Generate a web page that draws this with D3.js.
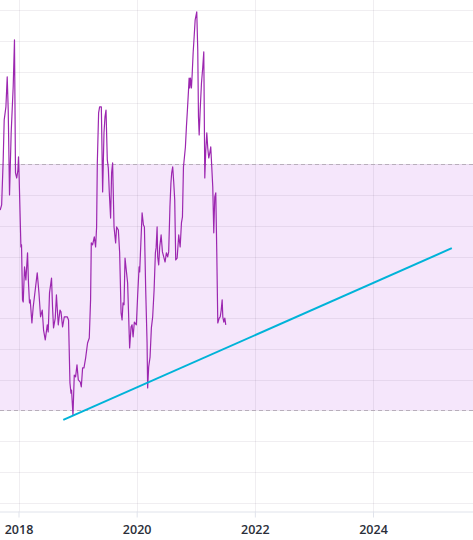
<!DOCTYPE html>
<html>
<head>
<meta charset="utf-8">
<script src="https://cdnjs.cloudflare.com/ajax/libs/d3/7.8.5/d3.min.js"></script>
<style>
  html, body { margin: 0; padding: 0; background: #fff; }
  svg { display: block; }
  .x-axis text { font-family: "Open Sans", "Noto Sans", sans-serif; font-size: 12.5px; font-weight: 600; fill: #2a2e39; }
</style>
</head>
<body>
<div id="chart"></div>
<script>
// weekly closes, time as decimal year
const times = [
  2017.690, 2017.715, 2017.741, 2017.758, 2017.787, 2017.809, 2017.826, 2017.848, 2017.876, 2017.910,
  2017.932, 2017.949, 2017.970, 2017.990, 2018.000, 2018.012, 2018.041, 2018.051, 2018.068, 2018.080,
  2018.102, 2018.125, 2018.153, 2018.169, 2018.186, 2018.198, 2018.227, 2018.249, 2018.283, 2018.317,
  2018.346, 2018.373, 2018.402, 2018.424, 2018.453, 2018.487, 2018.503, 2018.525, 2018.559, 2018.576,
  2018.593, 2018.622, 2018.642, 2018.673, 2018.702, 2018.719, 2018.746, 2018.775, 2018.825, 2018.847,
  2018.871, 2018.888, 2018.898, 2018.922, 2018.944, 2018.966, 2018.990, 2019.012, 2019.046, 2019.063,
  2019.085, 2019.108, 2019.136, 2019.169, 2019.198, 2019.220, 2019.232, 2019.254, 2019.283, 2019.305,
  2019.322, 2019.334, 2019.356, 2019.373, 2019.402, 2019.424, 2019.447, 2019.464, 2019.481, 2019.503,
  2019.520, 2019.537, 2019.559, 2019.576, 2019.593, 2019.617, 2019.644, 2019.661, 2019.690, 2019.712,
  2019.736, 2019.753, 2019.769, 2019.786, 2019.803, 2019.820, 2019.847, 2019.881, 2019.905, 2019.922,
  2019.939, 2019.961, 2019.995, 2020.017, 2020.041, 2020.051, 2020.092, 2020.114, 2020.131, 2020.153,
  2020.176, 2020.186, 2020.203, 2020.227, 2020.249, 2020.271, 2020.295, 2020.317, 2020.329, 2020.346,
  2020.356, 2020.373, 2020.390, 2020.414, 2020.436, 2020.458, 2020.481, 2020.503, 2020.525, 2020.542,
  2020.563, 2020.580, 2020.593, 2020.610, 2020.627, 2020.644, 2020.661, 2020.685, 2020.712, 2020.736,
  2020.758, 2020.775, 2020.792, 2020.809, 2020.825, 2020.842, 2020.859, 2020.876, 2020.888, 2020.898,
  2020.910, 2020.927, 2020.939, 2020.956, 2020.973, 2020.990, 2021.017, 2021.034, 2021.046, 2021.058,
  2021.075, 2021.097, 2021.119, 2021.136, 2021.153, 2021.170, 2021.187, 2021.203, 2021.220, 2021.237,
  2021.254, 2021.271, 2021.288, 2021.305, 2021.322, 2021.339, 2021.356, 2021.373, 2021.397, 2021.414,
  2021.431, 2021.447, 2021.458, 2021.475, 2021.492, 2021.508
];
const prices = [
  105.1, 106.8, 121.4, 134.4, 138.6, 148.4, 137.6, 110.0, 130.2, 145.1,
  160.4, 117.2, 115.5, 118.1, 122.4, 114.9, 93.1, 93.8, 75.9, 75.2,
  86.6, 82.4, 91.2, 81.4, 74.9, 75.9, 68.4, 73.6, 79.1, 84.7,
  78.2, 70.4, 72.6, 66.1, 62.9, 67.8, 65.5, 78.2, 83.0, 73.6,
  66.8, 70.0, 77.5, 67.8, 72.6, 72.0, 67.1, 70.4, 70.4, 69.4,
  48.9, 45.6, 46.6, 38.5, 51.5, 50.9, 54.8, 49.9, 49.2, 47.6,
  53.8, 53.8, 57.0, 61.9, 63.5, 75.9, 94.4, 93.8, 96.4, 93.1,
  99.6, 120.4, 136.7, 138.6, 138.6, 111.0, 130.2, 135.4, 137.6, 121.4,
  118.8, 110.7, 102.5, 117.2, 120.4, 99.6, 94.4, 99.6, 98.6, 91.2,
  71.7, 69.4, 74.9, 74.3, 89.5, 86.3, 81.4, 60.3, 67.1, 67.8,
  63.9, 68.7, 67.8, 77.5, 86.6, 85.0, 104.2, 100.3, 99.6, 79.1,
  61.9, 47.3, 54.1, 57.4, 66.8, 70.4, 79.1, 91.2, 92.8, 99.6,
  89.9, 87.3, 93.1, 97.0, 91.5, 89.9, 88.2, 91.2, 89.9, 91.5,
  106.1, 113.9, 117.2, 119.1, 114.2, 108.4, 88.9, 89.5, 97.0, 93.1,
  100.9, 102.9, 119.1, 122.4, 125.6, 132.1, 137.6, 143.5, 148.0, 144.8,
  148.0, 144.8, 149.0, 156.2, 161.4, 166.9, 169.5, 157.1, 135.4, 129.5,
  137.6, 146.4, 151.6, 156.5, 115.5, 124.6, 130.2, 125.3, 122.0, 123.6,
  125.6, 119.1, 112.6, 97.7, 109.4, 110.7, 91.2, 68.4, 70.0, 70.4,
  72.6, 75.9, 70.4, 68.7, 70.0, 67.8
];

// range band and trend line
const bandLow = 40;
const bandHigh = 120;
const trendTimes = [2018.758, 2025.334];
const trendValues = [36.9, 92.7];

// axis ticks
const xTicks = [2018, 2020, 2022, 2024];
const yTicks = [10, 20, 30, 40, 50, 60, 70, 80, 90, 100, 110, 120, 130, 140, 150, 160, 170];

let w = 473;
let h = 540;
let plotH = 512;

let svg = d3.select('#chart').
append('svg').
attr('width', w).
attr('height', h);

let xScale = d3.scaleLinear().
domain([2018, 2024]).
range([18.5, 373]);

let yScale = d3.scaleLinear().
domain([10, 170]).
range([502.7, 10.3]);

// band (under the grid)
svg.append('rect').
attr('x', 0).
attr('width', w).
attr('y', yScale(bandHigh)).
attr('height', yScale(bandLow) - yScale(bandHigh)).
attr('fill', '#f5e6fb');

// grid
svg.append('g').
selectAll('line').
data(yTicks).
enter().
append('line').
attr('x1', 0).
attr('x2', w).
attr('y1', d => Math.round(yScale(d)) + 0.5).
attr('y2', d => Math.round(yScale(d)) + 0.5).
attr('stroke', 'rgba(60, 40, 80, 0.08)');

svg.append('g').
selectAll('line').
data(xTicks).
enter().
append('line').
attr('x1', d => Math.round(xScale(d)) + 0.5).
attr('x2', d => Math.round(xScale(d)) + 0.5).
attr('y1', 0).
attr('y2', plotH).
attr('stroke', 'rgba(60, 40, 80, 0.08)');

svg.selectAll('.band-edge').
data([bandLow, bandHigh]).
enter().
append('line').
attr('class', 'band-edge').
attr('x1', 0).
attr('x2', w).
attr('y1', d => Math.round(yScale(d)) + 0.5).
attr('y2', d => Math.round(yScale(d)) + 0.5).
attr('stroke', '#b8aebb').
attr('stroke-dasharray', '4,3');

// price line
let line = d3.line().
x((d, i) => xScale(times[i])).
y(d => yScale(d));

svg.append('path').
datum(prices).
attr('d', line).
attr('fill', 'none').
attr('stroke', '#9c27b0').
attr('stroke-width', 1.2).
attr('stroke-linejoin', 'round');

// trend line
svg.append('line').
attr('x1', xScale(trendTimes[0])).
attr('y1', yScale(trendValues[0])).
attr('x2', xScale(trendTimes[1])).
attr('y2', yScale(trendValues[1])).
attr('stroke', '#00b3d8').
attr('stroke-width', 2);

// x axis
let xAxis = d3.axisBottom(xScale).
tickValues(xTicks).
tickFormat(d3.format('d')).
tickSize(6).
tickPadding(8);

let gx = svg.append('g').
attr('class', 'x-axis').
attr('transform', 'translate(0,' + (plotH - 0.5) + ')').
call(xAxis);

gx.select('.domain').
attr('d', 'M0,0.5H' + w).
attr('stroke', '#e0e3eb');
gx.selectAll('.tick line').
attr('stroke', '#e0e3eb');
</script>
</body>
</html>
